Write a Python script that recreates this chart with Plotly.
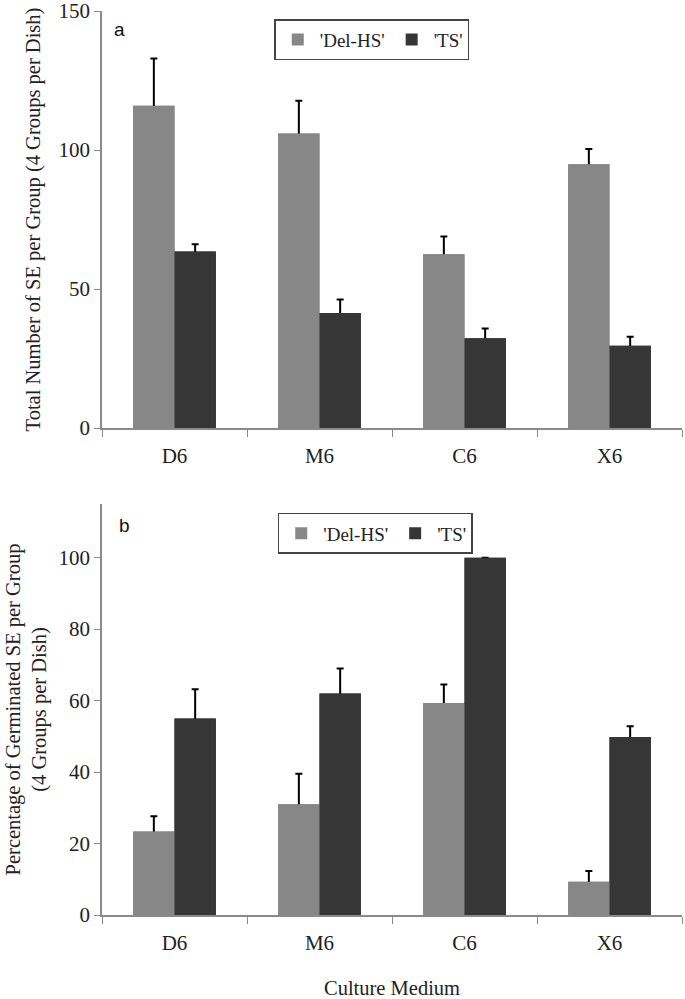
import plotly.graph_objects as go

categories = ["D6", "M6", "C6", "X6"]
series_names = ["'Del-HS'", "'TS'"]

# Panel a: total number of SE per group
a_delhs = [115.9, 105.9, 62.5, 94.9]
a_delhs_err = [17.0, 11.8, 6.4, 5.5]
a_ts = [63.5, 41.4, 32.3, 29.6]
a_ts_err = [2.6, 4.8, 3.5, 3.2]

# Panel b: percentage of germinated SE per group
b_delhs = [23.4, 31.0, 59.3, 9.3]
b_delhs_err = [4.2, 8.5, 5.2, 3.0]
b_ts = [55.0, 62.0, 100.0, 49.8]
b_ts_err = [8.2, 7.0, 0.0, 3.0]

c_delhs = "#878787"
c_ts = "#363636"
serif = "Liberation Serif"

fig = go.Figure()

def add_pair(vals1, err1, vals2, err2, xa, ya, legend):
    pairs = [(series_names[0], vals1, err1, c_delhs, "g1"),
             (series_names[1], vals2, err2, c_ts, "g2")]
    for name, vals, err, col, grp in pairs:
        # the minus part runs down inside the bar (hidden by the overlay below),
        # so only the upward (plus) error bar with its cap stays visible
        fig.add_trace(go.Bar(
            x=categories, y=vals, name=name, marker=dict(color=col, line=dict(width=0)),
            xaxis=xa, yaxis=ya, legend=legend, showlegend=True, offsetgroup=grp,
            error_y=dict(type="data", array=err, arrayminus=list(vals), symmetric=False,
                         color="#000000", thickness=2, width=3.5),
        ))
    for name, vals, err, col, grp in pairs:
        fig.add_trace(go.Bar(
            x=categories, y=vals, name=name, marker=dict(color=col, line=dict(width=0)),
            xaxis=xa, yaxis=ya, legend=legend, showlegend=False, offsetgroup=grp,
            hoverinfo="skip",
        ))

add_pair(a_delhs, a_delhs_err, a_ts, a_ts_err, "x", "y", "legend")
add_pair(b_delhs, b_delhs_err, b_ts, b_ts_err, "x2", "y2", "legend2")

axis_line = "#8a8a8a"
tickfont = dict(family=serif, size=21, color="#222222")
titlefont = dict(family=serif, size=20.5, color="#222222")

xcommon = dict(showgrid=False, showline=True, linecolor=axis_line, linewidth=1.5,
               ticks="outside", tickson="boundaries", ticklen=7, tickcolor=axis_line,
               tickfont=tickfont, zeroline=False, automargin=False)
ycommon = dict(showgrid=False, showline=True, linecolor=axis_line, linewidth=1.5,
               ticks="outside", ticklen=6, tickcolor=axis_line, tickfont=tickfont,
               zeroline=False, automargin=False)

legend_common = dict(orientation="h", xanchor="left", yanchor="top",
                     bordercolor="#444444", borderwidth=1.5, bgcolor="white",
                     font=dict(family=serif, size=19, color="#222222"),
                     itemwidth=34, tracegroupgap=0)

fig.update_layout(
    width=685, height=999,
    margin=dict(l=102, r=3, t=11, b=84),
    plot_bgcolor="white", paper_bgcolor="white",
    barmode="group", bargap=0.43, bargroupgap=0,
    xaxis=dict(domain=[0, 1], anchor="y", ticklabelstandoff=8, **xcommon),
    yaxis=dict(domain=[0.5387, 1], anchor="x", range=[0, 150], tickvals=[0, 50, 100, 150],
               ticklabeloverflow="allow",
               title=dict(text="Total Number of SE per Group (4 Groups per Dish)",
                          font=titlefont, standoff=12),
               **ycommon),
    xaxis2=dict(domain=[0, 1], anchor="y2", ticklabelstandoff=8,
                title=dict(text="Culture Medium", font=titlefont, standoff=28),
                **xcommon),
    yaxis2=dict(domain=[0, 0.4546], anchor="x2", range=[0, 115], tickvals=[0, 20, 40, 60, 80, 100],
                title=dict(text="Percentage of Germinated SE per Group<br>(4 Groups per Dish)",
                           font=titlefont, standoff=6),
                **ycommon),
    legend=dict(x=0.297, y=0.991, **legend_common),
    legend2=dict(x=0.303, y=0.4447, **legend_common),
    annotations=[
        dict(text="a", xref="paper", yref="paper", x=0.03, y=0.979, xanchor="center",
             yanchor="middle", showarrow=False,
             font=dict(family="Liberation Sans", size=19, color="#111111")),
        dict(text="b", xref="paper", yref="paper", x=0.038, y=0.431, xanchor="center",
             yanchor="middle", showarrow=False,
             font=dict(family="Liberation Sans", size=19, color="#111111")),
    ],
)

fig.write_html("out.html", config={"displayModeBar": False},
               post_script="document.body.style.margin='0';document.body.style.padding='0';")
